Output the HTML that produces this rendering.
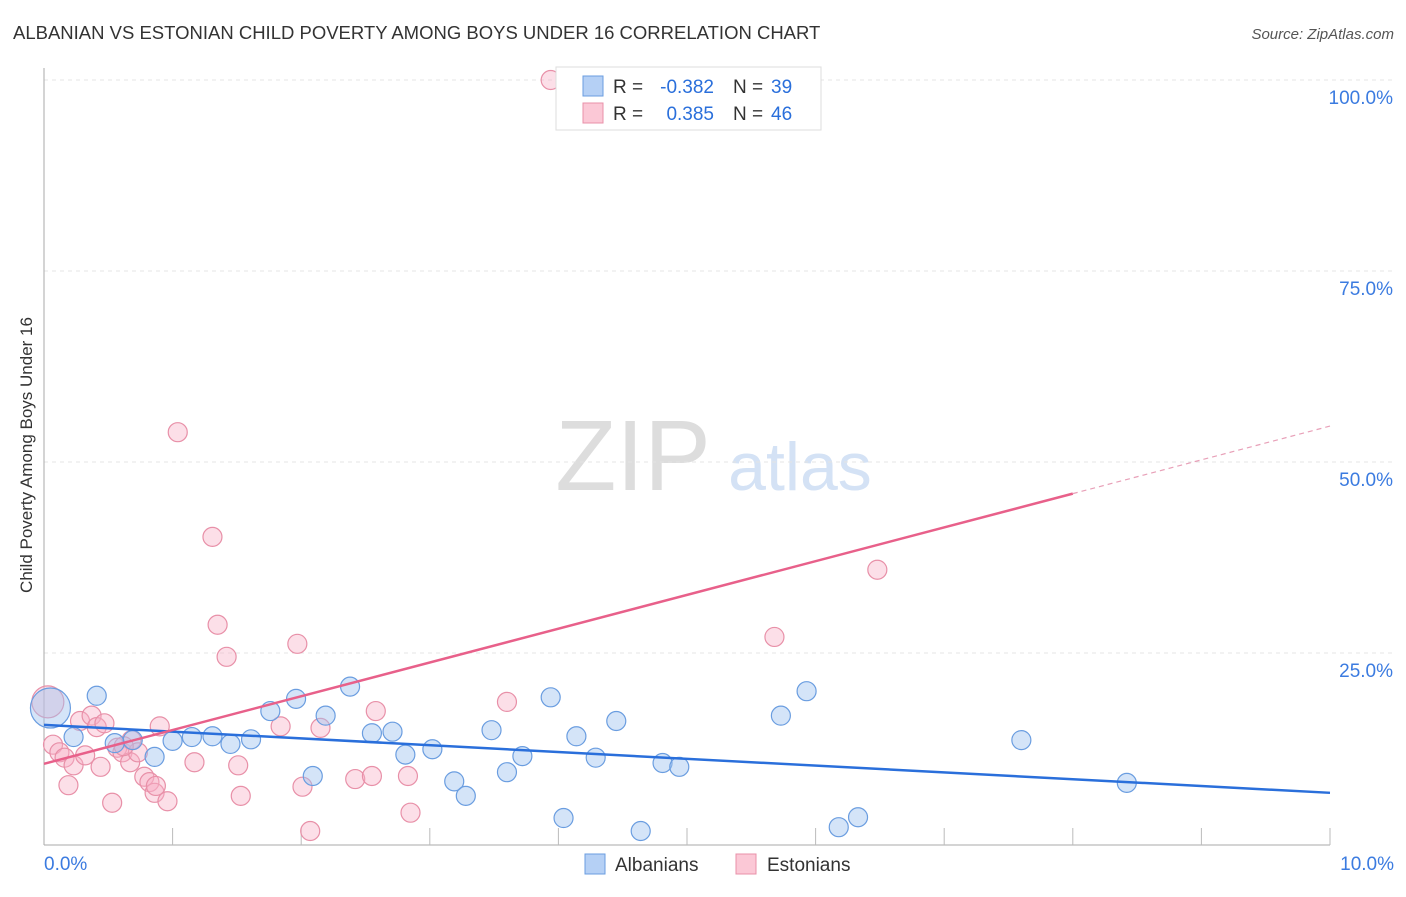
<!DOCTYPE html>
<html><head><meta charset="utf-8"><style>
body{margin:0;background:#fff;font-family:"Liberation Sans",sans-serif}
svg text{font-family:"Liberation Sans",sans-serif}
</style></head><body>
<svg id="c" width="1406" height="892">
<text x="13" y="39" font-size="18.5" fill="#333">ALBANIAN VS ESTONIAN CHILD POVERTY AMONG BOYS UNDER 16 CORRELATION CHART</text>
<text x="1394" y="39" font-size="15" fill="#555" font-style="italic" text-anchor="end">Source: ZipAtlas.com</text>
<text x="32" y="455" font-size="17" fill="#333" text-anchor="middle" transform="rotate(-90 32 455)">Child Poverty Among Boys Under 16</text>
<text x="633" y="490" font-size="100" fill="#ddd" font-family="Liberation Serif" text-anchor="middle">ZIP</text>
<text x="800" y="490" font-size="68" fill="#d4e2f5" text-anchor="middle">atlas</text>
<g id="grid"></g><g id="marks"></g>
<g>
<rect x="556" y="67" width="265" height="63" fill="#fff" stroke="#ddd"/>
<rect x="583" y="76" width="20" height="20" fill="#b5d0f5" stroke="#6a9de0"/>
<rect x="583" y="103" width="20" height="20" fill="#fbc8d6" stroke="#e890a8"/>
<text x="613" y="93" font-size="19" fill="#333">R =</text>
<text x="714" y="93" font-size="19" fill="#2a6fdb" text-anchor="end">-0.382</text>
<text x="733" y="93" font-size="19" fill="#333">N =</text>
<text x="771" y="93" font-size="19" fill="#2a6fdb">39</text>
<text x="613" y="120" font-size="19" fill="#333">R =</text>
<text x="714" y="120" font-size="19" fill="#2a6fdb" text-anchor="end">0.385</text>
<text x="733" y="120" font-size="19" fill="#333">N =</text>
<text x="771" y="120" font-size="19" fill="#2a6fdb">46</text>
</g>
<g>
<rect x="585" y="854" width="20" height="20" fill="#b5d0f5" stroke="#6a9de0"/>
<text x="615" y="871" font-size="19" fill="#333">Albanians</text>
<rect x="736" y="854" width="20" height="20" fill="#fbc8d6" stroke="#e890a8"/>
<text x="767" y="871" font-size="19" fill="#333">Estonians</text>
</g>
</svg>
<script>
const blueX=[.05,.41,.23,.55,.69,.86,1.0,1.15,1.31,1.45,1.61,1.76,1.96,2.09,2.19,2.38,2.55,2.71,2.81,3.02,3.19,3.28,3.48,3.6,3.72,3.94,4.04,4.14,4.29,4.45,4.64,4.81,4.94,5.73,5.93,6.18,6.33,7.6,8.42];
const blueY=[17.8,19.4,14.0,13.2,13.6,11.4,13.5,14.0,14.1,13.1,13.7,17.4,19.0,8.9,16.8,20.6,14.5,14.7,11.7,12.4,8.2,6.3,14.9,9.4,11.5,19.2,3.4,14.1,11.3,16.1,1.7,10.6,10.1,16.8,20.0,2.2,3.5,13.6,8.0];
const pinkX=[.03,.07,.12,.16,.19,.23,.28,.32,.37,.41,.44,.47,.53,.57,.61,.67,.68,.73,.78,.82,.86,.87,.9,.96,1.04,1.17,1.31,1.35,1.42,1.51,1.53,1.84,1.97,2.01,2.07,2.15,2.42,2.55,2.58,2.83,2.85,3.6,3.94,5.68,6.48,.62];
const pinkY=[18.6,13.0,12.0,11.3,7.7,10.3,16.1,11.6,16.8,15.3,10.1,15.8,5.4,12.6,12.0,10.7,13.6,12.0,8.8,8.1,6.7,7.6,15.4,5.6,53.9,10.7,40.2,28.7,24.5,10.3,6.3,15.4,26.2,7.5,1.7,15.2,8.5,8.9,17.4,8.9,4.1,18.6,100,27.1,35.9,12.8];
const yTicks=[25,50,75,100];
const yTickLabels=["25.0%","50.0%","75.0%","100.0%"];
const blueTrend=[15.6,6.7];
const pinkTrend=[10.5,4.42];
const X=v=>44+v*128.6, Y=v=>844-v*191/25;
const NS="http://www.w3.org/2000/svg";
function mk(t,a,p){const e=document.createElementNS(NS,t);for(const k in a)e.setAttribute(k,a[k]);p.appendChild(e);return e;}
const g=document.getElementById('grid'), m=document.getElementById('marks');
yTicks.forEach((t,i)=>{
 const l=mk('line',{x1:44,x2:1394,y1:Y(t),y2:Y(t),stroke:'#e4e4e4','stroke-dasharray':'4,4'},g);
 
 
 const tx=mk('text',{x:1393,y:Y(t)+24,'font-size':19,fill:'#3b7be0','text-anchor':'end'},g);
 tx.textContent=yTickLabels[i];
 
 
});
mk('line',{x1:44,x2:44,y1:68,y2:845,stroke:'#aaa'},g);
mk('line',{x1:44,x2:1330,y1:845,y2:845,stroke:'#aaa'},g);
for(let i=1;i<=10;i++){mk('line',{x1:X(i),x2:X(i),y1:828,y2:845,stroke:'#bbb'},g);}
const t0=mk('text',{x:44,y:870,'font-size':19,fill:'#3b7be0'},g);t0.textContent='0.0%';


const t1=mk('text',{x:1394,y:870,'font-size':19,fill:'#3b7be0','text-anchor':'end'},g);t1.textContent='10.0%';


function pts(xs,ys,fill,stroke,name,big){xs.forEach((x,i)=>{
 const c=mk('circle',{cx:X(x),cy:Y(ys[i]),r:i==0?big:9.5,fill:fill,stroke:stroke,'stroke-width':1.2},m);
 
 
});}
pts(pinkX,pinkY,'rgba(248,175,198,0.4)','#e890a8','estonian-point',16);
pts(blueX,blueY,'rgba(160,196,240,0.45)','#6a9de0','albanian-point',20);
const bl=mk('line',{x1:X(0),y1:Y(blueTrend[0]),x2:X(10),y2:Y(blueTrend[1]),stroke:'#2a6fdb','stroke-width':2.5},m);


const pl=mk('line',{x1:X(0),y1:Y(pinkTrend[0]),x2:X(8),y2:Y(pinkTrend[0]+8*pinkTrend[1]),stroke:'#e8608a','stroke-width':2.5},m);


const pd=mk('line',{x1:X(8),y1:Y(pinkTrend[0]+8*pinkTrend[1]),x2:X(10),y2:Y(pinkTrend[0]+10*pinkTrend[1]),stroke:'#e8a0b8','stroke-width':1.2,'stroke-dasharray':'5,4'},m);


</script>
</body></html>
